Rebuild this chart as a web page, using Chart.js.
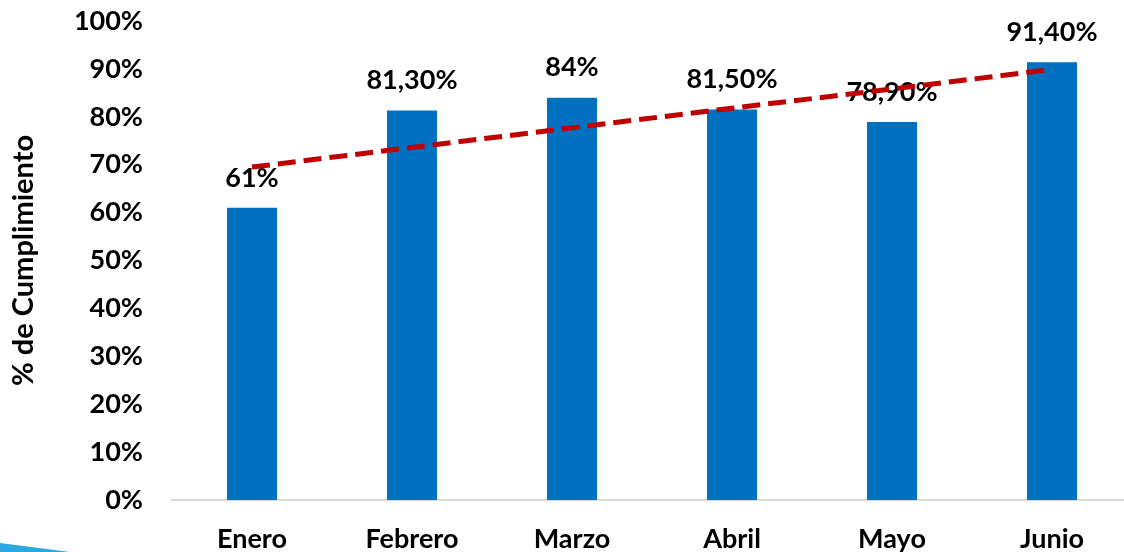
<!DOCTYPE html>
<html>
<head>
<meta charset="utf-8">
<script src="https://cdn.jsdelivr.net/npm/chart.js@4.4.1/dist/chart.umd.min.js"></script>
<style>
  html, body { margin: 0; padding: 0; background: #fff; overflow: hidden; }
  #wrap { position: relative; width: 1140px; height: 552px; }
  #swoosh {
    position: absolute; left: 0; bottom: 0; width: 70px; height: 9px;
    background: #29a9e1; clip-path: polygon(0 0, 100% 100%, 0 100%);
  }
</style>
</head>
<body>
<div id="wrap">
  <canvas id="cumplimiento-chart" width="1140" height="552"></canvas>
  <div id="swoosh"></div>
</div>
<script>
const months = ['Enero', 'Febrero', 'Marzo', 'Abril', 'Mayo', 'Junio'];
const cumplimiento = [61, 81.3, 84, 81.5, 78.9, 91.4];
const tendencia = [69.5, 73.6, 77.7, 81.8, 85.8, 89.9];
const yTicks = [0, 10, 20, 30, 40, 50, 60, 70, 80, 90, 100];

const FONT = 'Lato, "Open Sans", sans-serif';

function pctLabel(v) {
  return Number.isInteger(v) ? v + '%' : v.toFixed(2).replace('.', ',') + '%';
}

// value labels above bars, drawn before the trend line so the line sits on top
const barLabels = {
  id: 'barLabels',
  afterDatasetDraw(chart, args) {
    if (args.index !== 0) return;
    const ctx = chart.ctx;
    ctx.save();
    ctx.font = 'bold 27px ' + FONT;
    ctx.fillStyle = '#000';
    ctx.textAlign = 'center';
    ctx.textBaseline = 'middle';
    args.meta.data.forEach((bar, i) => {
      ctx.fillText(pctLabel(cumplimiento[i]), bar.x, bar.y - 30);
    });
    ctx.restore();
  },
};

function renderChart() {
  const canvas = document.getElementById('cumplimiento-chart');
  new Chart(canvas, {
    type: 'bar',
    data: {
      labels: months,
      datasets: [
        {
          label: '% de Cumplimiento',
          data: cumplimiento,
          backgroundColor: '#0070C0',
          borderWidth: 0,
          categoryPercentage: 1,
          barPercentage: 0.3125,
          order: 1,
        },
        {
          type: 'line',
          label: 'Tendencia',
          data: tendencia,
          borderColor: '#C00000',
          borderWidth: 5,
          borderDash: [18, 8],
          pointRadius: 0,
          fill: false,
          tension: 0,
          order: 0,
        },
      ],
    },
    options: {
      responsive: false,
      animation: false,
      layout: { padding: { top: 21, right: 8, left: 0, bottom: 0 } },
      plugins: { legend: { display: false }, tooltip: { enabled: false } },
      scales: {
        x: {
          grid: { display: false, drawTicks: false },
          border: { display: true, color: '#D9D9D9', width: 2 },
          ticks: { color: '#000', padding: 23, font: { family: FONT, size: 27, weight: 'bold' } },
          afterFit: s => { s.height = 52; s.paddingLeft = 0; s.paddingRight = 0; },
        },
        y: {
          min: 0,
          max: 100,
          afterBuildTicks: s => { s.ticks = yTicks.map(v => ({ value: v })); },
          grid: { display: false, drawTicks: false },
          border: { display: false },
          ticks: {
            color: '#000',
            padding: 29,
            font: { family: FONT, size: 27, weight: 'bold' },
            callback: v => v + '%',
          },
          title: {
            display: true,
            text: '% de Cumplimiento',
            color: '#000',
            padding: { top: 6, bottom: 0 },
            font: { family: FONT, size: 29, weight: 'bold' },
          },
          afterFit: s => { s.width = 172; s.paddingTop = 0; s.paddingBottom = 0; },
        },
      },
    },
    plugins: [barLabels],
  });
}

document.addEventListener('DOMContentLoaded', renderChart);
</script>
</body>
</html>
